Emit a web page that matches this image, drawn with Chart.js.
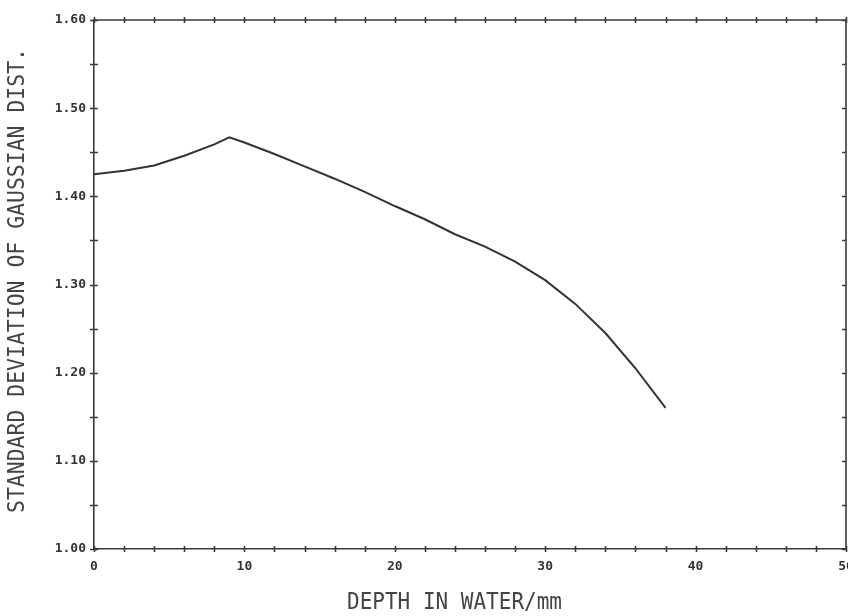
<!DOCTYPE html>
<html>
<head>
<meta charset="utf-8">
<script src="https://cdn.jsdelivr.net/npm/chart.js@4"></script>
<style>
    html, body { margin: 0; padding: 0; background: #fff; overflow: hidden; }
    #wrap { width: 870px; height: 616px; }
</style>
</head>
<body>
<div id="wrap"><canvas id="depthChart"></canvas></div>
<script>
// Depth in water (mm) vs. standard deviation of the gaussian distribution
const depth = [0, 2, 4, 6, 8, 9, 10, 12, 14, 16, 18, 20, 22, 24, 26, 28, 30, 32, 34, 36, 38];
const sigma = [1.425, 1.429, 1.435, 1.446, 1.459, 1.467, 1.461, 1.448, 1.434, 1.420, 1.405,
               1.389, 1.374, 1.357, 1.343, 1.326, 1.305, 1.278, 1.245, 1.205, 1.160];

const xTitle = 'DEPTH IN WATER/mm';
const yTitle = 'STANDARD DEVIATION OF GAUSSIAN DIST.';

const ink = '#3a3a3a';

// frame, crossing tick marks and the plotter-style axis titles
const plotterFrame = {
    id: 'plotterFrame',
    afterDraw(chart) {
        const { ctx, chartArea: a, scales: { x, y } } = chart;
        ctx.save();
        ctx.strokeStyle = ink;
        ctx.lineWidth = 1.6;
        ctx.beginPath();
        ctx.moveTo(a.left, a.top);
        ctx.lineTo(a.right, a.top);
        ctx.lineTo(a.right, a.bottom);
        x.ticks.forEach(t => {
            const px = Math.round(x.getPixelForValue(t.value)) + 0.5;
            ctx.moveTo(px, a.bottom - 3); ctx.lineTo(px, a.bottom + 3);
            ctx.moveTo(px, a.top - 3); ctx.lineTo(px, a.top + 3);
        });
        y.ticks.forEach(t => {
            const py = Math.round(y.getPixelForValue(t.value)) + 0.5;
            ctx.moveTo(a.left - 4, py); ctx.lineTo(a.left + 4, py);
            ctx.moveTo(a.right - 4, py); ctx.lineTo(a.right, py);
        });
        ctx.stroke();

        ctx.fillStyle = '#444';
        ctx.font = '23px "DejaVu Sans Mono"';
        ctx.textBaseline = 'middle';

        // x title
        let w = ctx.measureText(xTitle).width;
        ctx.save();
        ctx.translate(347, 603);
        ctx.scale(215 / w, 1);
        ctx.textAlign = 'left';
        ctx.fillText(xTitle, 0, 0);
        ctx.restore();

        // y title
        w = ctx.measureText(yTitle).width;
        ctx.save();
        ctx.translate(18, 280.5);
        ctx.rotate(-Math.PI / 2);
        ctx.scale(465 / w, 1);
        ctx.textAlign = 'center';
        ctx.fillText(yTitle, 0, 0);
        ctx.restore();

        ctx.restore();
    }
};

const ctx = document.getElementById('depthChart').getContext('2d');

new Chart(ctx, {
    type: 'line',
    data: {
        datasets: [{
            data: depth.map((d, i) => ({ x: d, y: sigma[i] })),
            borderColor: '#333',
            borderWidth: 2,
            pointRadius: 0,
            tension: 0,
            fill: false
        }]
    },
    options: {
        responsive: true,
        maintainAspectRatio: false,
        animation: false,
        layout: { padding: { top: 20, right: 24, left: 0, bottom: 0 } },
        plugins: {
            legend: { display: false },
            tooltip: { enabled: false }
        },
        scales: {
            x: {
                type: 'linear',
                min: 0,
                max: 50,
                afterFit: s => { s.height = 67; },
                grid: { display: false, drawTicks: false },
                border: { display: true, color: ink, width: 1.6 },
                ticks: {
                    stepSize: 2,
                    autoSkip: false,
                    maxRotation: 0,
                    padding: 10,
                    color: '#333',
                    font: { family: 'DejaVu Sans Mono', size: 13, weight: 'bold' },
                    callback: v => (v % 10 === 0 ? String(v) : '')
                }
            },
            y: {
                min: 1.0,
                max: 1.6,
                afterFit: s => { s.width = 94; },
                grid: { display: false, drawTicks: false },
                border: { display: true, color: ink, width: 1.6 },
                ticks: {
                    stepSize: 0.05,
                    autoSkip: false,
                    padding: 8,
                    color: '#333',
                    font: { family: 'DejaVu Sans Mono', size: 13, weight: 'bold' },
                    callback: v => {
                        const t = v * 10;
                        return Math.abs(t - Math.round(t)) < 1e-6 ? v.toFixed(2) : '';
                    }
                }
            }
        }
    },
    plugins: [plotterFrame]
});
</script>
</body>
</html>
